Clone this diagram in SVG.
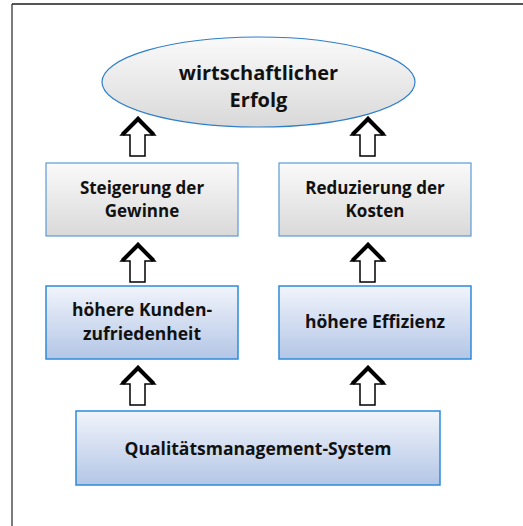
<svg xmlns="http://www.w3.org/2000/svg" width="523" height="526" viewBox="0 0 523 526">
<defs>
<linearGradient id="gGray" x1="0" y1="0" x2="0" y2="1">
<stop offset="0" stop-color="#fafafa"/>
<stop offset="1" stop-color="#d9d9d9"/>
</linearGradient>
<linearGradient id="gBlue" x1="0" y1="0" x2="0" y2="1">
<stop offset="0" stop-color="#f1f4fb"/>
<stop offset="1" stop-color="#b3c6e6"/>
</linearGradient>
<g id="uparrow">
<polygon points="0,0 17,18 7,18 7,39 -8,39 -8,18 -17,18" fill="#fff" stroke="#000" stroke-width="1.5" stroke-linejoin="miter"/>
<polyline points="-15.5,17.5 0,2 15.5,17.5" fill="none" stroke="#000" stroke-width="4" stroke-linejoin="miter"/>
</g>
</defs>
<style>
.t{font-family:"Open Sans","Noto Sans","Liberation Sans",sans-serif;font-weight:700;fill:#111;text-anchor:middle}
.gray{fill:url(#gGray);stroke:#5b9bd5;stroke-width:1.2}
.blue{fill:url(#gBlue);stroke:#2e8ad8;stroke-width:1.5}
</style>
<rect width="523" height="526" fill="#fff"/>
<g id="frame">
<line x1="12" y1="4" x2="523" y2="4" stroke="#555" stroke-width="1.8"/>
<line x1="12" y1="4" x2="12" y2="526" stroke="#222" stroke-width="1.2"/>
</g>
<g id="connectors">
<use href="#uparrow" transform="translate(138,117)"/>
<use href="#uparrow" transform="translate(368,117)"/>
<use href="#uparrow" transform="translate(138,243)"/>
<use href="#uparrow" transform="translate(368,243)"/>
<use href="#uparrow" transform="translate(138,366)"/>
<use href="#uparrow" transform="translate(368,366)"/>
</g>
<g id="erfolg">
<ellipse cx="258.5" cy="82" rx="156.5" ry="45" fill="url(#gGray)" stroke="#2e7fc9" stroke-width="1.2"/>
<text class="t" x="258.5" y="80" font-size="20">wirtschaftlicher</text>
<text class="t" x="258.5" y="107" font-size="20">Erfolg</text>
</g>
<g id="gewinne">
<rect class="gray" x="46" y="163" width="192" height="73"/>
<text class="t" x="142" y="193.5" font-size="17">Steigerung der</text>
<text class="t" x="142" y="217" font-size="17">Gewinne</text>
</g>
<g id="kosten">
<rect class="gray" x="279" y="163" width="192" height="73"/>
<text class="t" x="375" y="193.5" font-size="17">Reduzierung der</text>
<text class="t" x="375" y="217" font-size="17">Kosten</text>
</g>
<g id="kunden">
<rect class="blue" x="46" y="286" width="192" height="73"/>
<text class="t" x="142" y="316" font-size="17.5">höhere Kunden-</text>
<text class="t" x="142" y="340" font-size="17.5">zufriedenheit</text>
</g>
<g id="effizienz">
<rect class="blue" x="279" y="286" width="192" height="73"/>
<text class="t" x="375" y="328" font-size="17.5">höhere Effizienz</text>
</g>
<g id="qm">
<rect class="blue" x="76" y="411" width="364" height="74"/>
<text class="t" x="258" y="455" font-size="17.5">Qualitätsmanagement-System</text>
</g>
</svg>
